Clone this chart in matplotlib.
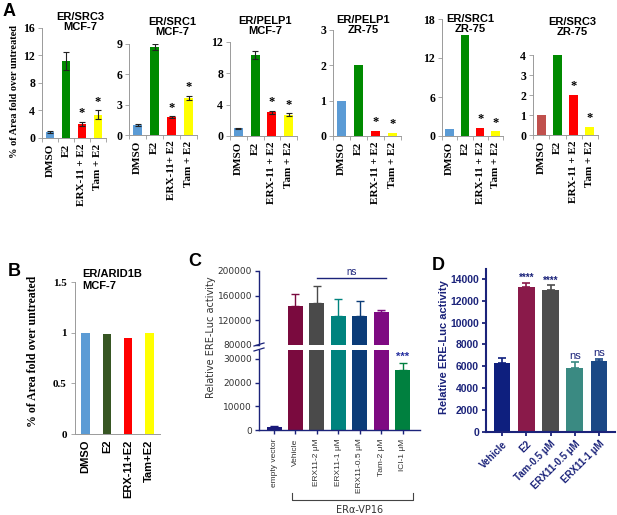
import matplotlib
matplotlib.use("Agg")
import matplotlib.pyplot as plt

# ---------------- data ----------------
a_groups = ["DMSO", "E2", "ERX-11 + E2", "Tam + E2"]
a_groups_alt = ["DMSO", "E2", "ERX-11+ E2", "Tam + E2"]
a_titles = ["ER/SRC3\nMCF-7", "ER/SRC1\nMCF-7", "ER/PELP1\nMCF-7",
            "ER/PELP1\nZR-75", "ER/SRC1\nZR-75", "ER/SRC3\nZR-75"]
a_means = [[0.9, 11.2, 2.0, 3.4],
           [1.0, 8.7, 1.75, 3.7],
           [1.0, 10.3, 3.0, 2.7],
           [1.0, 2.0, 0.15, 0.08],
           [1.1, 15.5, 1.3, 0.7],
           [1.0, 4.0, 2.0, 0.4]]
a_errs = [[0.15, 1.3, 0.3, 0.6],
          [0.1, 0.3, 0.1, 0.2],
          [0.05, 0.5, 0.2, 0.2],
          None, None, None]
a_yticks = [[0, 4, 8, 12, 16], [0, 3, 6, 9], [0, 4, 8, 12],
            [0, 1, 2, 3], [0, 6, 12, 18], [0, 1, 2, 3, 4]]
a_stars = ["", "", "*", "*"]

b_groups = ["DMSO", "E2", "ERX-11+E2", "Tam+E2"]
b_values = [1.0, 0.985, 0.95, 1.0]
b_yticks = [0, 0.5, 1, 1.5]
b_yticklabels = ["0", "0.5", "1", "1.5"]

c_labels = ["empty vector", "Vehicle", "ERX11-2 \u03bcM", "ERX11-1 \u03bcM",
            "ERX11-0.5 \u03bcM", "Tam-2 \u03bcM", "ICI-1 \u03bcM"]
c_values = [1200, 143000, 148000, 127000, 127000, 134000, 25500]
c_errs = [300, 20000, 27000, 28000, 24000, 2000, 2800]
c_upper_ticks = [80000, 120000, 160000, 200000]
c_lower_ticks = [0, 10000, 20000, 30000]

d_labels = ["Vehicle", "E2", "Tam-0.5 \u03bcM", "ERX11-0.5 \u03bcM", "ERX11-1 \u03bcM"]
d_values = [6300, 13300, 12950, 5850, 6450]
d_errs = [500, 350, 450, 550, 200]
d_annot = ["", "****", "****", "ns", "ns"]
d_yticks = [0, 2000, 4000, 6000, 8000, 10000, 12000, 14000]

# ---------------- styles ----------------
A_COLORS = ["#5B9BD5", "#008A00", "#FF0000", "#FFFF00"]
A6_DMSO = "#C0504D"
B_COLORS = ["#5B9BD5", "#375623", "#FF0000", "#FFFF00"]
C_COLORS = ["#1A1A7A", "#7A0A3E", "#4A4A4A", "#00837E", "#0B3C78", "#7E0A82", "#00803F"]
D_COLORS = ["#0E1F7E", "#8A1A4A", "#4D4D4D", "#3A8A82", "#1B4885"]
NAVY = "#1B237A"
SERIF = "Liberation Serif"
SANS = "Liberation Sans"
GRAY = "#9A9A9A"

W, H = 617, 515
fig = plt.figure(figsize=(W / 100, H / 100), dpi=100)


def box(l, t, r, b):
    return fig.add_axes([l / W, 1 - b / H, (r - l) / W, (b - t) / H])


def fx(x):
    return x / W


def fy(y):
    return 1 - y / H


# ---------------- panel A ----------------
a_boxes = [(42, 28, 106, 138), (129, 44, 197, 135), (230, 42, 297, 136),
           (333, 30, 401, 136), (442, 19, 503, 136), (533, 55, 598, 135)]
a_title_pos = [(80, 22), (172, 27), (265, 26), (363, 25), (470, 24), (572, 27)]
for i in range(6):
    ax = box(*a_boxes[i])
    cols = list(A_COLORS)
    if i == 5:
        cols[0] = A6_DMSO
    xs = range(len(a_groups))
    ax.bar(xs, a_means[i], width=0.55, color=cols, zorder=2)
    tops = list(a_means[i])
    if a_errs[i] is not None:
        ax.errorbar(xs, a_means[i], yerr=a_errs[i], fmt="none", ecolor="#222222",
                    elinewidth=0.8, capsize=2, capthick=0.8, zorder=3)
        tops = [m + e for m, e in zip(a_means[i], a_errs[i])]
    ymax = a_yticks[i][-1]
    for k, s in enumerate(a_stars):
        if s:
            ax.annotate(s, (k, tops[k]), xytext=(0, 2), textcoords="offset points",
                        ha="center", va="bottom", fontsize=9, fontfamily=SERIF,
                        fontweight="bold", color="black")
    ax.set_ylim(0, ymax)
    ax.set_xlim(-0.5, 3.5)
    ax.set_yticks(a_yticks[i])
    ax.set_yticklabels([str(t) for t in a_yticks[i]], fontfamily=SERIF,
                       fontweight="bold", fontsize=8.5)
    ax.set_xticks(list(xs))
    ax.set_xticklabels(a_groups_alt if i == 1 else a_groups, rotation=90,
                       fontfamily=SERIF, fontweight="bold", fontsize=8)
    ax.set_xticks([-0.5, 0.5, 1.5, 2.5, 3.5], minor=True)
    ax.tick_params(axis="x", which="major", length=0, pad=4)
    ax.tick_params(axis="x", which="minor", length=3, color=GRAY, width=0.6)
    ax.tick_params(axis="y", length=3, color=GRAY, width=0.6, pad=2)
    for sp in ["top", "right"]:
        ax.spines[sp].set_visible(False)
    for sp in ["left", "bottom"]:
        ax.spines[sp].set_color(GRAY)
        ax.spines[sp].set_linewidth(0.7)
    ax.patch.set_alpha(0)
    fig.text(fx(a_title_pos[i][0]), fy(a_title_pos[i][1]), a_titles[i], ha="center",
             va="center", fontsize=8, fontfamily=SANS, fontweight="bold",
             linespacing=1.05)

fig.text(fx(15), fy(92), "% of Area fold over untreated", rotation=90, ha="center",
         va="center", fontsize=7.5, fontfamily=SERIF, fontweight="bold")
fig.text(fx(3), fy(11), "A", fontsize=13, fontfamily=SANS, fontweight="bold",
         ha="left", va="center")

# ---------------- panel B ----------------
axb = box(75, 282, 160, 434)
xb = range(len(b_groups))
axb.bar(xb, b_values, width=0.4, color=B_COLORS, zorder=2)
axb.set_ylim(0, 1.5)
axb.set_xlim(-0.5, 3.5)
axb.set_yticks(b_yticks)
axb.set_yticklabels(b_yticklabels, fontfamily=SERIF, fontweight="bold", fontsize=8)
axb.set_xticks(list(xb))
axb.set_xticklabels(b_groups, rotation=90, fontfamily=SANS, fontweight="bold",
                    fontsize=8)
axb.tick_params(axis="x", length=0, pad=4)
axb.tick_params(axis="y", length=3, color=GRAY, width=0.6, pad=3)
for sp in ["top", "right"]:
    axb.spines[sp].set_visible(False)
for sp in ["left", "bottom"]:
    axb.spines[sp].set_color(GRAY)
    axb.spines[sp].set_linewidth(0.7)
fig.text(fx(82), fy(280), "ER/ARID1B\nMCF-7", ha="left", va="center", fontsize=8,
         fontfamily=SANS, fontweight="bold", linespacing=1.2)
fig.text(fx(33), fy(351), "% of Area fold over untreated", rotation=90, ha="center",
         va="center", fontsize=8.5, fontfamily=SERIF, fontweight="bold")
fig.text(fx(8), fy(271), "B", fontsize=13, fontfamily=SANS, fontweight="bold",
         ha="left", va="center")

# ---------------- panel C ----------------
axu = box(259, 271, 420, 345)
axl = box(259, 349.5, 420, 430)
xc = list(range(len(c_labels)))
for ax in (axu, axl):
    ax.bar(xc, c_values, width=0.7, color=C_COLORS, zorder=2)
    for k in xc:
        ax.errorbar([k], [c_values[k]], yerr=[[0], [c_errs[k]]], fmt="none",
                    ecolor=C_COLORS[k], elinewidth=1.0, capsize=3, capthick=1.0,
                    zorder=3)
    ax.set_xlim(-0.7, 6.8)
    for sp in ["top", "right"]:
        ax.spines[sp].set_visible(False)
    ax.spines["left"].set_color(NAVY)
    ax.spines["left"].set_linewidth(1.0)
    ax.tick_params(axis="y", length=3, color=NAVY, width=1.0, pad=2,
                   labelsize=6.5, labelcolor="#333333")
    ax.patch.set_alpha(0)
axu.set_ylim(80000, 200000)
axu.set_yticks(c_upper_ticks)
axu.spines["bottom"].set_visible(False)
axu.set_xticks([])
axl.set_ylim(0, 34000)
axl.set_yticks(c_lower_ticks)
axl.spines["bottom"].set_color(NAVY)
axl.spines["bottom"].set_linewidth(1.0)
axl.set_xticks(xc)
axl.set_xticklabels(c_labels, rotation=90, fontsize=6, color="#333333")
axl.tick_params(axis="x", length=3, color=NAVY, width=1.0, pad=3)
for ax in (axu, axl):
    for lab in ax.get_yticklabels():
        lab.set_fontfamily("DejaVu Sans")
    for lab in ax.get_xticklabels():
        lab.set_fontfamily(SANS)
axu.plot([2, 5.2], [188000, 188000], color=NAVY, lw=1.0)
axu.text(3.6, 190000, "ns", ha="center", va="bottom", fontsize=7, color=NAVY,
         fontfamily=SANS)
axl.text(6, c_values[6] + c_errs[6] + 500, "***", ha="center", va="bottom",
         fontsize=8, color="#2630A0", fontfamily=SANS, fontweight="bold")
# axis break marks
for yy in (344.5, 349.5):
    fig.add_artist(plt.Line2D([fx(254), fx(264)], [fy(yy + 1.5), fy(yy - 1.5)],
                              color=NAVY, lw=0.9))
fig.text(fx(211), fy(337), "Relative ERE-Luc activity", rotation=90, ha="center",
         va="center", fontsize=7, fontfamily="DejaVu Sans", color="#333333")
# bracket
fig.add_artist(plt.Line2D([fx(292), fx(292), fx(413), fx(413)],
                          [fy(493), fy(500), fy(500), fy(493)], color="#444444", lw=0.8))
fig.text(fx(360), fy(510), "ER\u03b1-VP16", ha="center", va="center", fontsize=7,
         fontfamily="DejaVu Sans", color="#333333")
fig.text(fx(188), fy(262), "C", fontsize=13, fontfamily=SANS, fontweight="bold",
         ha="left", va="center")

# ---------------- panel D ----------------
axd = box(486, 269, 615, 432)
xd = list(range(len(d_labels)))
axd.bar(xd, d_values, width=0.7, color=D_COLORS, zorder=2)
for k in xd:
    axd.errorbar([k], [d_values[k]], yerr=[[0], [d_errs[k]]], fmt="none",
                 ecolor=D_COLORS[k], elinewidth=1.2, capsize=3, capthick=1.2, zorder=3)
    if d_annot[k]:
        is_star = d_annot[k].startswith("*")
        axd.text(k, d_values[k] + d_errs[k] + (0 if is_star else 100), d_annot[k],
                 ha="center", va="bottom", color=NAVY, fontfamily=SANS,
                 fontsize=7 if is_star else 8, fontweight="bold" if is_star else "normal")
axd.set_ylim(0, 14900)
axd.set_xlim(-0.66, 4.66)
axd.set_yticks(d_yticks)
axd.set_yticklabels([str(t) for t in d_yticks], fontfamily=SANS, fontweight="bold",
                    fontsize=7.5, color=NAVY)
axd.set_xticks(xd)
axd.set_xticklabels(d_labels, rotation=45, ha="right", rotation_mode="anchor",
                    fontfamily=SANS, fontweight="bold", fontsize=7, color=NAVY)
axd.tick_params(axis="both", length=3, color=NAVY, width=1.3, pad=2)
for sp in ["top", "right"]:
    axd.spines[sp].set_visible(False)
for sp in ["left", "bottom"]:
    axd.spines[sp].set_color(NAVY)
    axd.spines[sp].set_linewidth(1.5)
fig.text(fx(444), fy(347), "Relative ERE-Luc activity", rotation=90, ha="center",
         va="center", fontsize=8, fontfamily=SANS, fontweight="bold", color=NAVY)
fig.text(fx(432), fy(265), "D", fontsize=13, fontfamily=SANS, fontweight="bold",
         ha="left", va="center")

fig.savefig("out.png", dpi=100)
